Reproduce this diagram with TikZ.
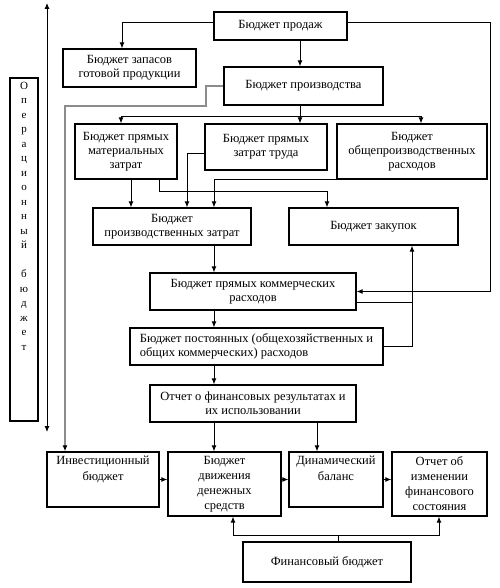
\documentclass[tikz,border=0pt]{standalone}
\usepackage{fontspec}
\setmainfont{Liberation Serif}
\usetikzlibrary{arrows.meta}
\begin{document}
\begin{tikzpicture}[x=1pt,y=-1pt,
  box/.style={draw, line width=1.3pt, inner sep=0pt, align=center,
    font=\fontsize{12.5}{14}\selectfont},
  txt/.style={inner sep=0pt, align=center, font=\fontsize{12.5}{15.5}\selectfont},
  conn/.style={line width=0.9pt},
  arr/.style={conn, -{Latex[length=6pt,width=5pt]}},
  gline/.style={line width=2pt, draw=black!45, -{Latex[black,length=6pt,width=5pt]}}]
\useasboundingbox (0,0) rectangle (499,588);
% helper columns / rows
\coordinate (c65) at (65,0);
\coordinate (c122) at (122,0);
\coordinate (c121) at (121,0);
\coordinate (c131) at (131,0);
\coordinate (c159) at (159,0);
\coordinate (c187) at (187,0);
\coordinate (c214) at (214,0);
\coordinate (c233) at (233,0);
\coordinate (c300) at (300,0);
\coordinate (c317) at (317,0);
\coordinate (c327) at (327,0);
\coordinate (c338) at (338,0);
\coordinate (c412) at (412,0);
\coordinate (c421) at (421,0);
\coordinate (c439) at (439,0);
\coordinate (c490) at (490,0);
\coordinate (r116) at (0,116);
\coordinate (r191) at (0,191);
\coordinate (r535) at (0,535);
\coordinate (k302) at (412,302);
\coordinate (g1) at (206,106);
\coordinate (g2) at (65,106);
\coordinate (vt) at (47,3);
\coordinate (vb) at (47,432);

% boxes
\node[box, minimum width=133, minimum height=28] (prod) at (280.5,26) {Бюджет продаж};
\node[box, minimum width=133, minimum height=38] (zap) at (129.5,68) {Бюджет запасов\\готовой продукции};
\node[box, minimum width=159, minimum height=38] (proizv) at (303.5,86) {Бюджет производства};
\node[box, minimum width=102, minimum height=55] (mat) at (126,151.5) {Бюджет прямых\\материальных\\затрат};
\node[box, minimum width=122, minimum height=46] (trud) at (266,147) {Бюджет прямых\\затрат труда};
\node[box, minimum width=150, minimum height=55] (obsh) at (412,151.5) {Бюджет\\общепроизводственных\\расходов};
\node[box, minimum width=158, minimum height=37] (pzatr) at (172,226.5) {Бюджет\\производственных затрат};
\node[box, minimum width=169, minimum height=37] (zak) at (373.5,226.5) {Бюджет закупок};
\node[box, minimum width=206, minimum height=37] (kom) at (253,291.5) {Бюджет прямых коммерческих\\расходов};
\node[box, minimum width=253, minimum height=37, align=left] (post) at (256.5,346.5) {Бюджет постоянных (общехозяйственных и\\общих коммерческих) расходов};
\node[box, minimum width=206, minimum height=37] (otch) at (253,403.5) {Отчет о финансовых результатах и\\их использовании};
\node[box, minimum width=112, minimum height=55] (inv) at (103,479.5) {};
\node[txt, anchor=north] (invt) at (103,456) {Инвестиционный\\бюджет};
\node[box, minimum width=113, minimum height=64, font=\fontsize{12.5}{15}\selectfont] (dds) at (224.5,484) {Бюджет\\движения\\денежных\\средств};
\node[box, minimum width=94, minimum height=55] (din) at (336,479.5) {};
\node[txt, anchor=north] (dint) at (336,456) {Динамический\\баланс};
\node[box, minimum width=95, minimum height=64, font=\fontsize{12.5}{15}\selectfont] (izm) at (439.5,484) {Отчет об\\изменении\\финансового\\состояния};
\node[box, minimum width=168, minimum height=40] (fin) at (327,562) {Финансовый бюджет};
\node[box, minimum width=28, minimum height=343] (oper) at (24,249.5) {};
\node[inner sep=0pt, align=center, anchor=north, font=\fontsize{11}{14.5}\selectfont] (opert) at (24,82)
  {О\\п\\е\\р\\а\\ц\\и\\о\\н\\н\\ы\\й\\ \\б\\ю\\д\\ж\\е\\т};

% vertical double arrow
\draw[conn, {Latex[length=6pt,width=5pt]}-{Latex[length=6pt,width=5pt]}] (vt) -- (vb);

% connectors
\draw[arr] ([yshift=4pt]prod.west) -| (zap.north -| c122);
\draw[arr] (prod.south -| c300) -- (proizv.north -| c300);
\draw[arr] ([yshift=4pt]prod.east) -| (c490 |- kom.east) -- (kom.east);
\draw[conn] (proizv.south -| c300) -- (c300 |- r116);
\draw[arr] (c300 |- r116) -- (trud.north -| c300);
\draw[arr] (c300 |- r116) -| (mat.north -| c121);
\draw[arr] (c300 |- r116) -| (obsh.north -| c421);
\draw[gline] (proizv.west) -| (g1) -- (g2) -- (inv.north -| g2);
\draw[arr] (mat.south -| c131) -- (pzatr.north -| c131);
\draw[arr] (mat.south -| c159) |- (c327 |- r191) -- (zak.north -| c327);
\draw[arr] ([yshift=-6pt]trud.west) -| (pzatr.north -| c187);
\draw[arr] (obsh.south west) -| (pzatr.north -| c214);
\draw[arr] (pzatr.south -| c214) -- (kom.north -| c214);
\draw[arr] (kom.south -| c214) -- (post.north -| c214);
\draw[arr] (post.south -| c214) -- (otch.north -| c214);
\draw[conn] (kom.east |- k302) -- (k302);
\draw[arr] (post.east) -| (zak.south -| c412);
\draw[arr] (otch.south -| c214) -- (dds.north -| c214);
\draw[arr] (otch.south -| c317) -- (din.north -| c317);
\draw[arr] (inv.east) -- (inv.east -| dds.west);
\draw[arr] (din.west -| dds.east) -- (din.west);
\draw[arr] (din.east) -- (din.east -| izm.west);
\draw[arr] (fin.north -| c338) |- (c233 |- r535) -- (dds.south -| c233);
\draw[arr] (c338 |- r535) -| (izm.south -| c439);
\end{tikzpicture}
\end{document}
